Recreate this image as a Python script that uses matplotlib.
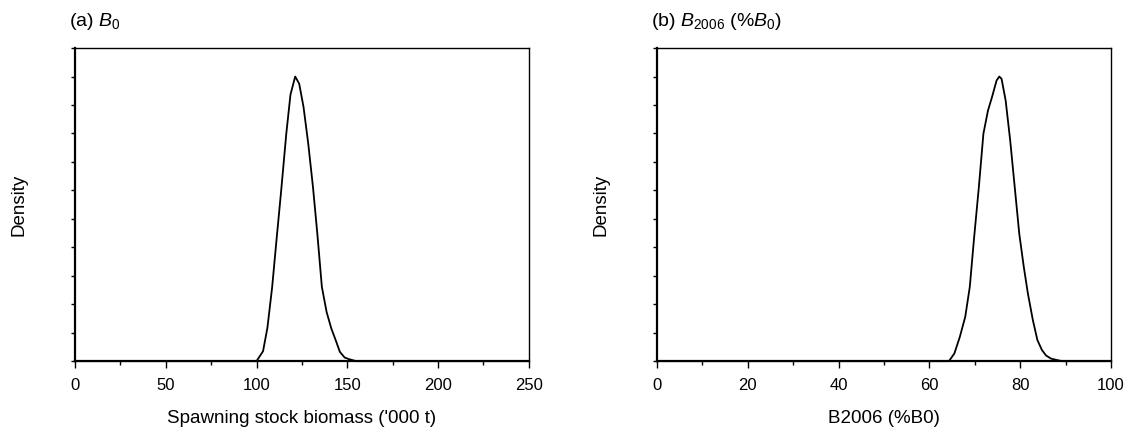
import numpy as np
import matplotlib
matplotlib.use('Agg')
import matplotlib.pyplot as plt
from matplotlib.ticker import MultipleLocator, NullFormatter

plt.rcParams['font.family'] = ['Liberation Sans', 'DejaVu Sans']
plt.rcParams['mathtext.fontset'] = 'custom'
plt.rcParams['mathtext.rm'] = 'Liberation Sans'
plt.rcParams['mathtext.it'] = 'Liberation Sans:italic'
plt.rcParams['font.size'] = 12

# Posterior density, panel (a): B0 ('000 t), density on an arbitrary scale
b0_x = [0, 100.0, 103.6, 106.0, 108.6, 111.0, 113.6, 116.4, 118.7, 121.3, 123.5,
        125.9, 128.5, 131.1, 133.5, 136.0, 138.6, 141.2, 143.6, 145.9, 148.5,
        151.0, 155.0, 250]
b0_y = [0, 0, 0.35, 1.17, 2.59, 4.25, 6.0, 7.99, 9.36, 10.0, 9.75,
        8.93, 7.64, 6.12, 4.48, 2.61, 1.73, 1.15, 0.74, 0.33, 0.13,
        0.07, 0, 0]

# Panel (b): B2006 (%B0)
b2006_x = [0, 64.3, 65.5, 66.7, 67.9, 68.9, 69.8, 70.9, 71.9, 72.9, 73.8, 74.8,
           75.4, 75.9, 76.8, 77.8, 78.8, 79.8, 80.8, 81.7, 82.8, 83.8, 84.8,
           85.7, 86.8, 88.1, 89.3, 100]
b2006_y = [0, 0, 0.27, 0.85, 1.56, 2.61, 4.25, 6.12, 7.99, 8.8, 9.28, 9.86,
           10.0, 9.92, 9.16, 7.76, 6.12, 4.48, 3.31, 2.38, 1.44, 0.74, 0.39,
           0.2, 0.09, 0.04, 0, 0]

fig = plt.figure(figsize=(11.29, 4.41), dpi=100)
ax1 = fig.add_axes([0.0664, 0.181, 0.402, 0.71])
ax2 = fig.add_axes([0.582, 0.181, 0.402, 0.71])

panels = [
    (ax1, b0_x, b0_y, 250, 50, 25, "Spawning stock biomass ('000 t)",
     r'(a) $\mathit{B}_{\mathrm{0}}$'),
    (ax2, b2006_x, b2006_y, 100, 20, 10, 'B2006 (%B0)',
     r'(b) $\mathit{B}_{\mathrm{2006}}$ (%$\mathit{B}_{\mathrm{0}}$)'),
]

for ax, x, y, xmax, major, minor, xlabel, title in panels:
    ax.plot(x, y, color='black', lw=1.3, clip_on=False)
    ax.set_xlim(0, xmax)
    ax.set_ylim(0, 11)
    ax.xaxis.set_major_locator(MultipleLocator(major))
    ax.xaxis.set_minor_locator(MultipleLocator(minor))
    ax.yaxis.set_major_locator(MultipleLocator(1))
    ax.yaxis.set_major_formatter(NullFormatter())
    ax.tick_params(axis='x', which='major', direction='out', length=5, width=1,
                   pad=7, labelsize=12)
    ax.tick_params(axis='x', which='minor', direction='out', length=3, width=1)
    ax.tick_params(axis='y', which='major', direction='out', length=3, width=1)
    for side in ['left', 'bottom']:
        ax.spines[side].set_linewidth(1.6)
    for side in ['top', 'right']:
        ax.spines[side].set_linewidth(1.0)
    ax.set_xlabel(xlabel, fontsize=13.5, labelpad=12)
    ax.set_ylabel('Density', fontsize=13.5)
    ax.yaxis.set_label_coords(-0.105, 0.5)
    ax.text(-0.013, 1.05, title, transform=ax.transAxes, ha='left', va='bottom',
            fontsize=14)

fig.savefig('out.png', dpi=100)
